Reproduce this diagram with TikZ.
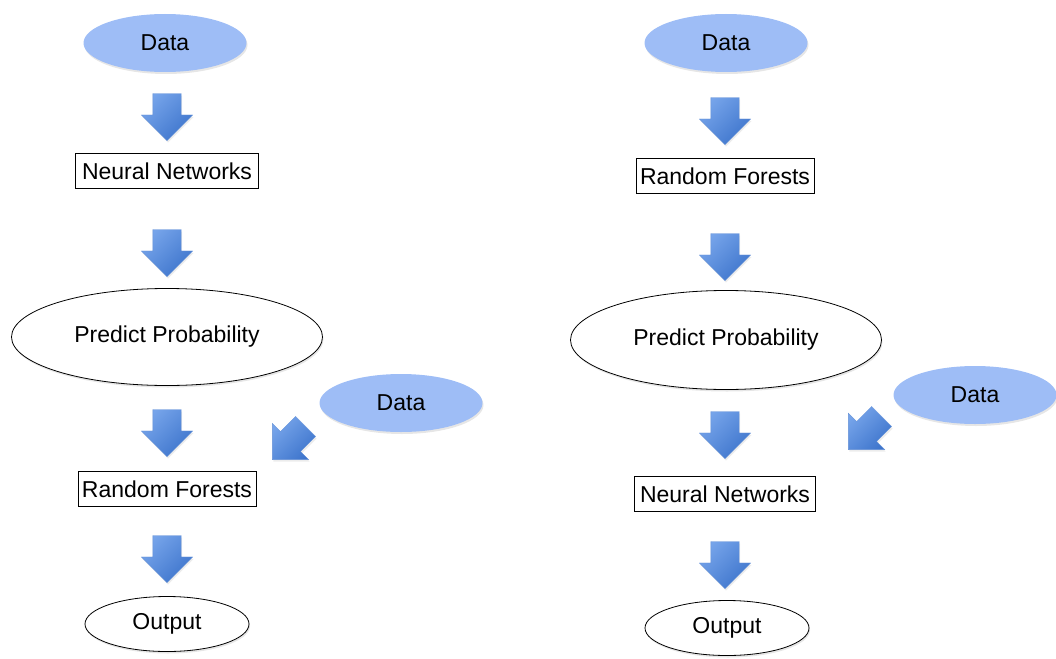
\documentclass[tikz,border=0pt]{standalone}
\usepackage{fontspec}
\setmainfont{Liberation Sans}
\usetikzlibrary{shapes.geometric,shapes.arrows,shadows}
\definecolor{datablue}{RGB}{158,189,246}
\definecolor{arrowlight}{RGB}{118,164,234}
\definecolor{arrowdark}{RGB}{62,117,204}
\begin{document}
\begin{tikzpicture}[x=1pt,y=-1pt,
    every node/.style={font=\fontsize{23}{27}\selectfont},
    datanode/.style={ellipse, fill=datablue, minimum width=163pt, minimum height=58pt, inner sep=0pt,
        drop shadow={opacity=0.2, shadow xshift=1pt, shadow yshift=-2pt}},
    stepbox/.style={draw, line width=0.8pt, minimum height=35pt, inner sep=4pt},
    bigoval/.style={ellipse, draw, line width=0.8pt, minimum width=311pt, minimum height=97pt, inner sep=0pt,
        fill=white, drop shadow={opacity=0.2, shadow xshift=1pt, shadow yshift=-2pt}},
    outoval/.style={ellipse, draw, line width=0.8pt, minimum width=164pt, minimum height=55pt, inner sep=0pt,
        fill=white, drop shadow={opacity=0.2, shadow xshift=1pt, shadow yshift=-2pt}},
    blockarrow/.style={single arrow, shape border rotate=270, rotate=#1, inner sep=14pt, minimum height=47pt,
        single arrow head extend=11.5pt, single arrow tip angle=90, draw=arrowdark!80, line width=0.3pt,
        shading=axis, top color=arrowlight, bottom color=arrowdark, shading angle=45,
        drop shadow={opacity=0.15, shadow xshift=1pt, shadow yshift=-2pt}},
    blockarrow/.default=0]
\useasboundingbox (0,0) rectangle (1056,658);

% left chain
\node[datanode] (dataL) at (165,43) {Data};
\node[blockarrow] (aL1) at (167,110) {};
\node[stepbox, minimum width=183pt] (nnL) at (167,171) {Neural Networks};
\node[blockarrow] (aL2) at (167,246) {};
\node[bigoval] (ppL) at (167,337) {Predict Probability};
\node[blockarrow] (aL3) at (167,426) {};
\node[datanode] (dataL2) at (401,403) {Data};
\node[blockarrow=-45] (aL4) at (294,438) {};
\node[stepbox, minimum width=178pt] (rfL) at (167,489) {Random Forests};
\node[blockarrow] (aL5) at (167,552) {};
\node[outoval] (outL) at (167,624) {Output};

% right chain
\node[datanode] (dataR) at (726,43) {Data};
\node[blockarrow] (aR1) at (725,114) {};
\node[stepbox, minimum width=175pt] (rfR) at (725,176) {Random Forests};
\node[blockarrow] (aR2) at (725,250) {};
\node[bigoval, minimum height=99pt] (ppR) at (726,340) {Predict Probability};
\node[blockarrow] (aR3) at (725,428) {};
\node[datanode] (dataR2) at (975,395) {Data};
\node[blockarrow=-45] (aR4) at (870,428) {};
\node[stepbox, minimum width=181pt] (nnR) at (725,494) {Neural Networks};
\node[blockarrow] (aR5) at (725,558) {};
\node[outoval] (outR) at (727,628) {Output};
\end{tikzpicture}
\end{document}
